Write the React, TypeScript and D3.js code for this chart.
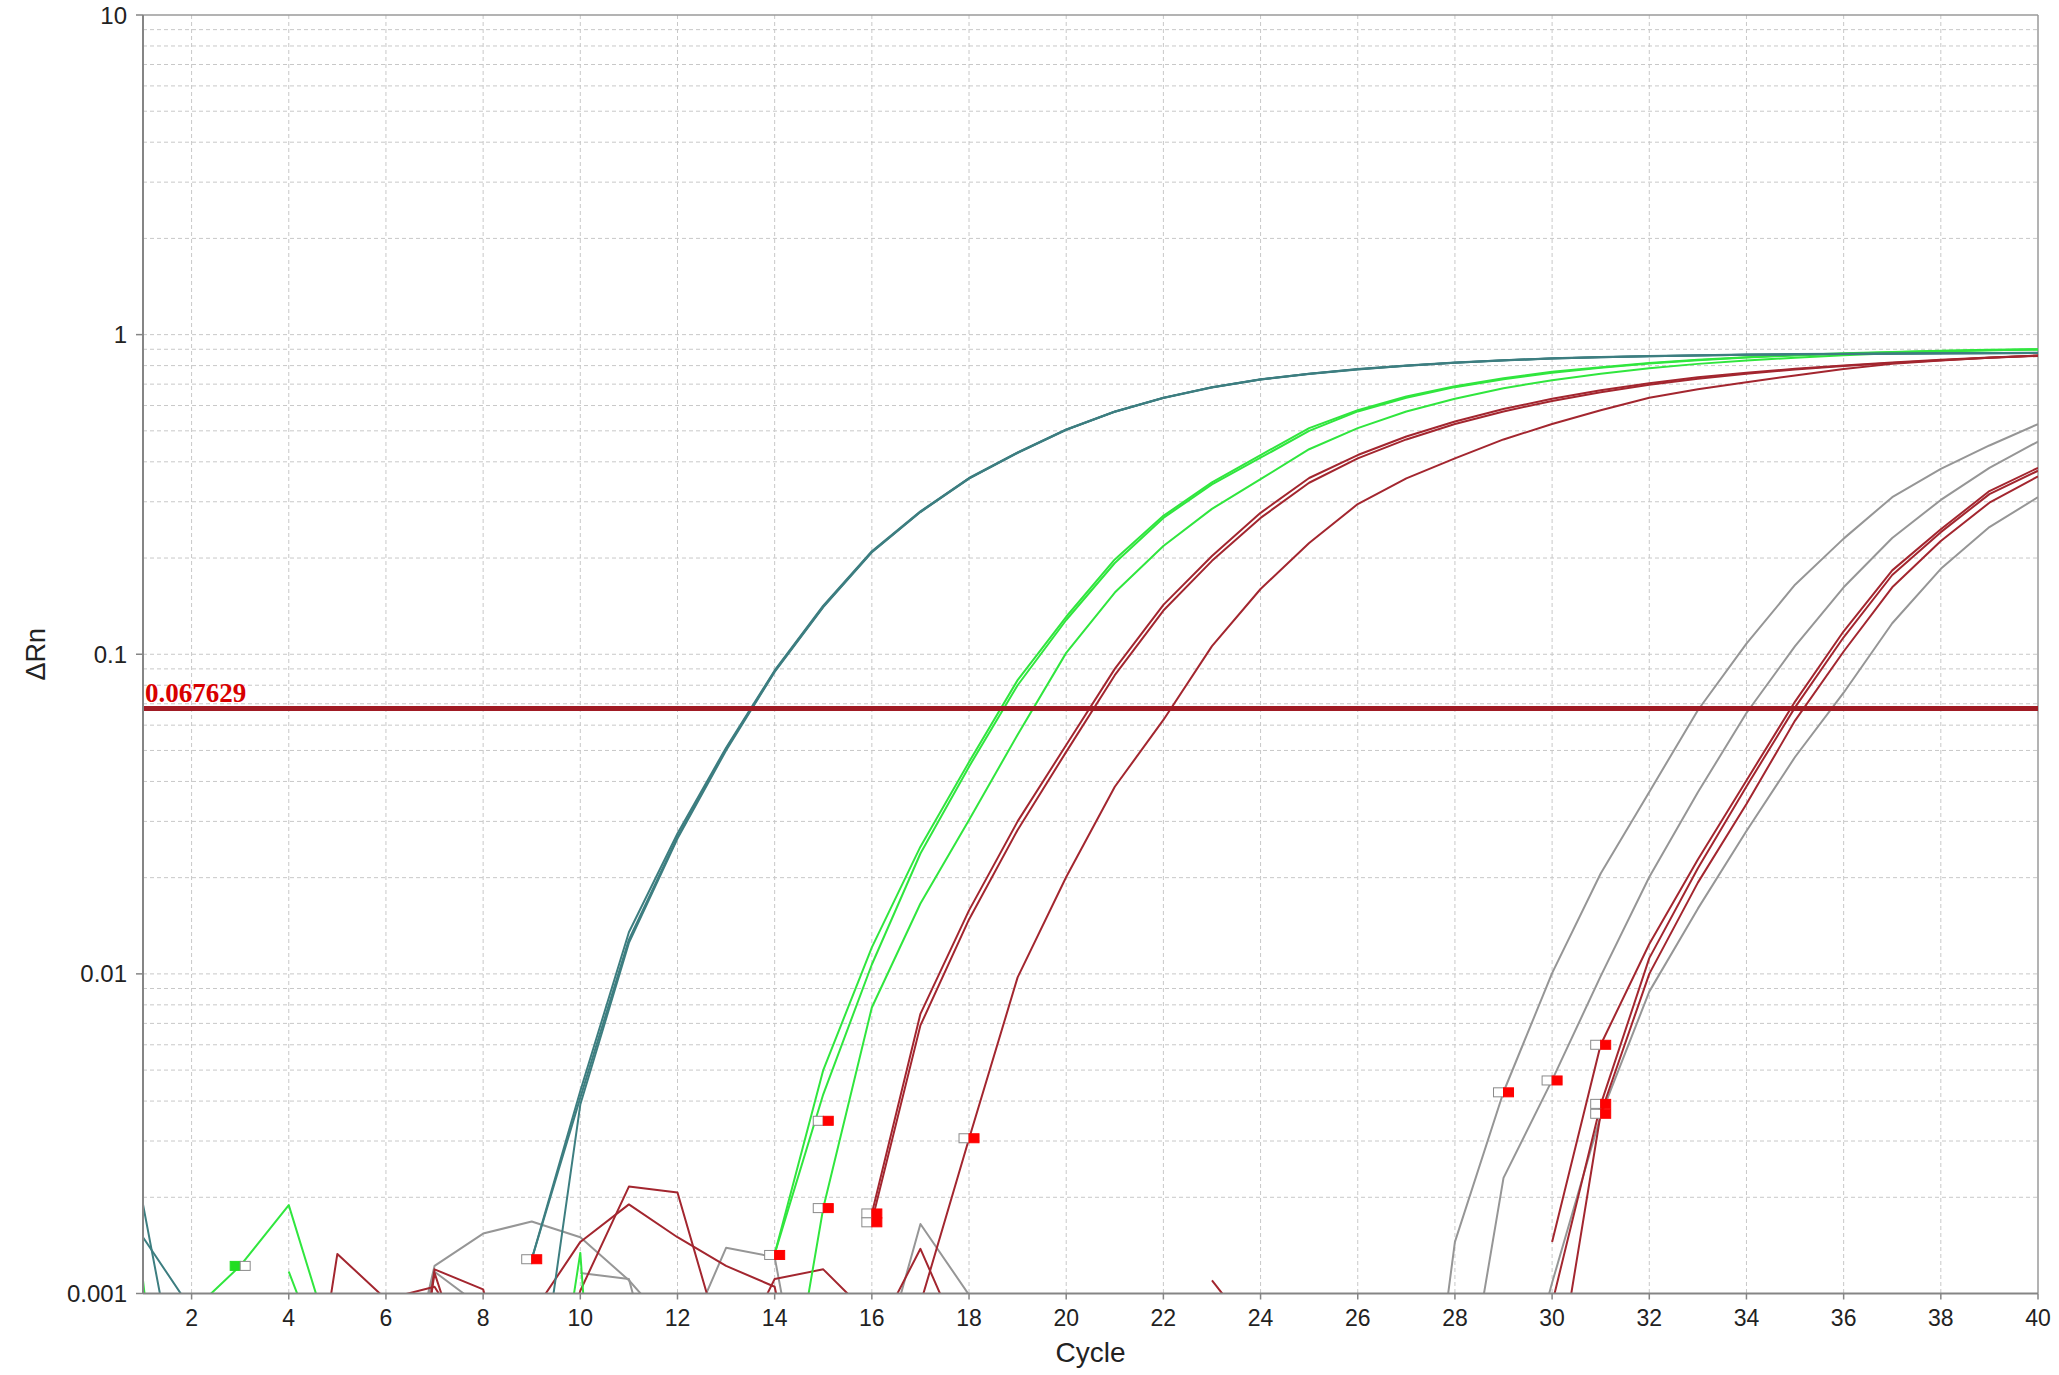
import React from "react";
import * as d3 from "d3";

const _ = null;
type V = number | null;

const cycles = d3.range(1, 41);
const xTicks = d3.range(2, 41, 2);
const yDecades = [0.001, 0.01, 0.1, 1, 10];
const yTickLabels = ["0.001", "0.01", "0.1", "1", "10"];
const threshold = 0.067629;
const thresholdLabel = "0.067629";

// ΔRn per cycle (1..40); null = not plotted (≤ 0)
const tealA: V[] = [
  0.0019, 0.0003, _, _, _, _, _, _, 0.00128, 0.0043,
  0.0135, 0.0275, 0.051, 0.089, 0.142, 0.21, 0.28, 0.356, 0.428, 0.505,
  0.575, 0.635, 0.685, 0.725, 0.755, 0.78, 0.8, 0.818, 0.832, 0.843,
  0.851, 0.857, 0.862, 0.866, 0.869, 0.871, 0.873, 0.875, 0.876, 0.877,
];
const tealB: V[] = [
  0.0015, 0.00089, 0.0003, _, _, _, _, _, 0.00128, 0.0041,
  0.0128, 0.0268, 0.0505, 0.0885, 0.141, 0.209, 0.279, 0.355, 0.427, 0.504,
  0.574, 0.634, 0.684, 0.724, 0.754, 0.779, 0.799, 0.817, 0.831, 0.842,
  0.85, 0.856, 0.861, 0.865, 0.868, 0.87, 0.872, 0.874, 0.875, 0.876,
];
const tealC: V[] = [
  _, _, _, _, _, _, _, _, 0.00033, 0.0039,
  0.0125, 0.0265, 0.05, 0.088, 0.1405, 0.2085, 0.2785, 0.3545, 0.4265, 0.5035,
  0.5735, 0.6335, 0.6835, 0.7235, 0.7535, 0.7785, 0.7985, 0.8165, 0.8305, 0.8415,
  0.8495, 0.8555, 0.8605, 0.8645, 0.8675, 0.8695, 0.8715, 0.8735, 0.8745, 0.8755,
];
const greenA: V[] = [
  0.0011, 0.00005, _, _, _, _, _, _, 0.00014, 0.00134,
  0.00001, _, _, 0.00133, 0.005, 0.0121, 0.025, 0.046, 0.083, 0.131,
  0.198, 0.271, 0.345, 0.42, 0.51, 0.58, 0.64, 0.69, 0.73, 0.765,
  0.79, 0.815, 0.835, 0.85, 0.863, 0.874, 0.883, 0.89, 0.896, 0.9,
];
const greenB: V[] = [
  _, 0.000875, 0.00122, 0.00189, 0.000605, _, _, _, _, _,
  _, _, _, 0.00133, 0.0042, 0.0107, 0.0238, 0.0445, 0.08, 0.128,
  0.193, 0.267, 0.34, 0.412, 0.5, 0.575, 0.635, 0.685, 0.725, 0.76,
  0.787, 0.812, 0.832, 0.848, 0.861, 0.872, 0.881, 0.888, 0.894, 0.898,
];
const greenC: V[] = [
  _, _, _, 0.00117, 0.00047, _, _, _, _, _,
  _, _, _, 0.00024, 0.00185, 0.00785, 0.0166, 0.0303, 0.056, 0.101,
  0.156, 0.218, 0.285, 0.353, 0.438, 0.51, 0.575, 0.63, 0.68, 0.72,
  0.755, 0.785, 0.81, 0.83, 0.847, 0.862, 0.875, 0.885, 0.893, 0.899,
];
const redA: V[] = [
  _, _, _, _, _, _, _, _, _, _,
  _, _, _, _, _, 0.00178, 0.0075, 0.0158, 0.03, 0.052,
  0.09, 0.1427, 0.203, 0.277, 0.356, 0.42, 0.48, 0.535, 0.585, 0.63,
  0.67, 0.705, 0.735, 0.76, 0.782, 0.8, 0.818, 0.835, 0.848, 0.86,
];
const redB: V[] = [
  _, _, _, _, _, _, _, _, _, _,
  _, _, _, _, _, 0.00168, 0.0069, 0.0148, 0.0282, 0.0495,
  0.086, 0.137, 0.196, 0.267, 0.344, 0.41, 0.47, 0.525, 0.575, 0.62,
  0.66, 0.697, 0.728, 0.755, 0.778, 0.797, 0.815, 0.832, 0.846, 0.858,
];
const redC: V[] = [
  _, _, _, _, _, 0.0001, 0.00116, 0.0004, _, _,
  _, _, _, _, _, _, 0.00093, 0.00305, 0.00975, 0.0201,
  0.0385, 0.0623, 0.106, 0.16, 0.223, 0.295, 0.355, 0.41, 0.47, 0.525,
  0.58, 0.635, 0.675, 0.71, 0.745, 0.78, 0.81, 0.83, 0.847, 0.86,
];
const grayA: V[] = [
  _, _, _, _, _, 0.00027, 0.00122, 0.00154, 0.00168, 0.0015,
  0.0011, 0.00074, _, _, _, _, _, _, _, _,
  _, _, _, _, _, _, 0.0001, 0.00145, 0.00427, 0.01005,
  0.0206, 0.0371, 0.0668, 0.108, 0.165, 0.23, 0.31, 0.38, 0.45, 0.525,
];
const grayB: V[] = [
  _, _, _, _, _, 0.0003, 0.00117, 0.0009, _, _,
  _, 0.00062, 0.00139, 0.0013, 0.0002, _, _, _, _, _,
  _, _, _, _, _, _, _, 0.00029, 0.0023, 0.00465,
  0.00984, 0.0201, 0.037, 0.0655, 0.106, 0.162, 0.231, 0.304, 0.383, 0.463,
];
const grayC: V[] = [
  _, _, _, _, _, _, _, _, _, 0.00116,
  0.00111, 0.0003, _, _, _, 0.00047, 0.00165, 0.00099, 0.0003, _,
  _, _, _, _, _, _, _, _, 0.0003, 0.00108,
  0.0036, 0.0088, 0.016, 0.028, 0.0477, 0.0758, 0.125, 0.185, 0.25, 0.31,
];
const lateRedA: V[] = [
  _, _, _, _, _, _, _, _, 0.00086, 0.00145,
  0.0019, 0.0015, 0.00122, 0.00105, 0.0002, 0.0007, 0.00138, 0.00062, _, _,
  _, _, _, _, _, _, _, _, _, 0.00145,
  0.006, 0.0124, 0.0228, 0.0403, 0.0711, 0.118, 0.183, 0.246, 0.324, 0.383,
];
const lateRedB: V[] = [
  _, _, _, _, _, 0.0001, 0.00119, 0.00103, 0.0003, 0.00102,
  0.00216, 0.00207, 0.00062, _, _, _, _, _, _, _,
  _, _, 0.0011, 0.0007, _, _, _, _, _, 0.00093,
  0.0039, 0.0112, 0.0214, 0.0386, 0.0682, 0.113, 0.177, 0.241, 0.317, 0.375,
];
const lateRedC: V[] = [
  _, _, _, 0.00014, 0.00133, 0.00096, 0.00105, 0.0006, _, _,
  _, _, 0.00055, 0.00111, 0.00119, 0.00084, _, _, _, _,
  _, _, _, _, _, _, _, _, _, 0.00043,
  0.00365, 0.01, 0.0193, 0.034, 0.062, 0.102, 0.162, 0.226, 0.298, 0.36,
];

// baseline markers: cycle, ΔRn, kind
const markerCycles = [3, 9, 14, 15, 15, 16, 16, 18, 29, 30, 31, 31, 31];
const markerValues = [0.00122, 0.00128, 0.00132, 0.00347, 0.00185, 0.00178, 0.00167, 0.00306, 0.00426, 0.00464, 0.006, 0.00392, 0.00365];
const markerKinds = ["green", "red", "red", "red", "red", "red", "red", "red", "red", "red", "red", "red", "red"];

const COLORS: Record<string, string> = {
  teal: "#3d7e80",
  green: "#30e63e",
  red: "#a3262f",
  gray: "#969696",
};

const series: { values: V[]; group: string }[] = [
  { values: grayA, group: "gray" },
  { values: grayB, group: "gray" },
  { values: grayC, group: "gray" },
  { values: lateRedA, group: "red" },
  { values: lateRedB, group: "red" },
  { values: lateRedC, group: "red" },
  { values: redA, group: "red" },
  { values: redB, group: "red" },
  { values: redC, group: "red" },
  { values: greenA, group: "green" },
  { values: greenB, group: "green" },
  { values: greenC, group: "green" },
  { values: tealA, group: "teal" },
  { values: tealB, group: "teal" },
  { values: tealC, group: "teal" },
];

const W = 2059;
const H = 1375;
const L = 143;
const R = 2038;
const T = 15;
const B = 1293.5;

export default function App() {
  const x = d3.scaleLinear().domain([1, 40]).range([L, R]);
  const y = d3.scaleLog().domain([0.001, 10]).range([B, T]);
  const line = d3
    .line<V>()
    .defined((d) => d != null && (d as number) > 0)
    .x((_d, i) => x(cycles[i]))
    .y((d) => y(d as number));

  const hGrid: number[] = [];
  [0.001, 0.01, 0.1, 1].forEach((dec) => {
    for (let k = 1; k <= 9; k++) {
      const v = dec * k;
      if (dec === 0.001 && k === 1) continue;
      hGrid.push(v);
    }
  });

  const font = "Liberation Sans, Arial, sans-serif";

  return (
    <svg
      width={W}
      height={H}
      style={{ position: "fixed", left: 0, top: 0, background: "#fff" }}
      xmlns="http://www.w3.org/2000/svg"
    >
      <rect x={0} y={0} width={W} height={H} fill="#fff" />
      <defs>
        <clipPath id="plot">
          <rect x={L} y={T} width={R - L} height={B - T} />
        </clipPath>
      </defs>
      {/* grid */}
      <g stroke="#c8c8c8" strokeWidth={1} strokeDasharray="4,3">
        {hGrid.map((v, i) => (
          <line key={"h" + i} x1={L} x2={R} y1={y(v)} y2={y(v)} />
        ))}
        {xTicks
          .filter((c) => c < 40)
          .map((c) => (
            <line key={"v" + c} x1={x(c)} x2={x(c)} y1={T} y2={B} />
          ))}
      </g>
      {/* frame */}
      <line x1={L} x2={R} y1={T} y2={T} stroke="#9a9a9a" strokeWidth={1.5} />
      <line x1={R} x2={R} y1={T} y2={B} stroke="#9a9a9a" strokeWidth={1.5} />
      {/* curves */}
      <g clipPath="url(#plot)" fill="none" strokeWidth={2} strokeLinejoin="round">
        {series.map((s, i) => (
          <path key={i} d={line(s.values) || ""} stroke={COLORS[s.group]} />
        ))}
      </g>
      {/* threshold */}
      <line
        x1={L}
        x2={R}
        y1={y(threshold)}
        y2={y(threshold)}
        stroke="#a01b24"
        strokeWidth={5}
      />
      <text
        x={L + 2}
        y={y(threshold) - 7}
        fill="#d80000"
        fontFamily="Liberation Serif, Times New Roman, serif"
        fontWeight="bold"
        fontSize={27}
      >
        {thresholdLabel}
      </text>
      {/* markers */}
      <g>
        {markerCycles.map((c, i) => {
          const cx = x(c);
          const cy = y(markerValues[i]);
          const isGreen = markerKinds[i] === "green";
          return (
            <g key={"m" + i}>
              <rect
                x={cx - 10}
                y={cy - 4.5}
                width={10}
                height={9}
                fill={isGreen ? "#22dd22" : "#ffffff"}
                stroke={isGreen ? "#22dd22" : "#8a8a8a"}
                strokeWidth={1}
              />
              <rect
                x={cx}
                y={cy - 4.5}
                width={10}
                height={9}
                fill={isGreen ? "#ffffff" : "#ff0000"}
                stroke={isGreen ? "#8a8a8a" : "#ff0000"}
                strokeWidth={1}
              />
            </g>
          );
        })}
      </g>
      {/* axes */}
      <line x1={L} x2={L} y1={T} y2={B} stroke="#858585" strokeWidth={2} />
      <line x1={L} x2={R} y1={B} y2={B} stroke="#858585" strokeWidth={2} />
      {yDecades.map((v, i) => (
        <g key={"yt" + i}>
          <line x1={L - 7} x2={L} y1={y(v)} y2={y(v)} stroke="#858585" strokeWidth={1.5} />
          <text
            x={L - 16}
            y={y(v)}
            textAnchor="end"
            dominantBaseline="central"
            fontFamily={font}
            fontSize={24}
            fill="#222"
          >
            {yTickLabels[i]}
          </text>
        </g>
      ))}
      {xTicks.map((c) => (
        <g key={"xt" + c}>
          <line x1={x(c)} x2={x(c)} y1={B} y2={B + 6} stroke="#858585" strokeWidth={1.5} />
          <text
            x={x(c)}
            y={B + 32}
            textAnchor="middle"
            fontFamily={font}
            fontSize={23}
            fill="#222"
          >
            {c}
          </text>
        </g>
      ))}
      <text
        x={(L + R) / 2}
        y={1362}
        textAnchor="middle"
        fontFamily={font}
        fontSize={28}
        fill="#222"
      >
        Cycle
      </text>
      <text
        transform={`translate(45, ${y(0.1)}) rotate(-90)`}
        textAnchor="middle"
        fontFamily={font}
        fontSize={27}
        fill="#222"
      >
        ΔRn
      </text>
    </svg>
  );
}
